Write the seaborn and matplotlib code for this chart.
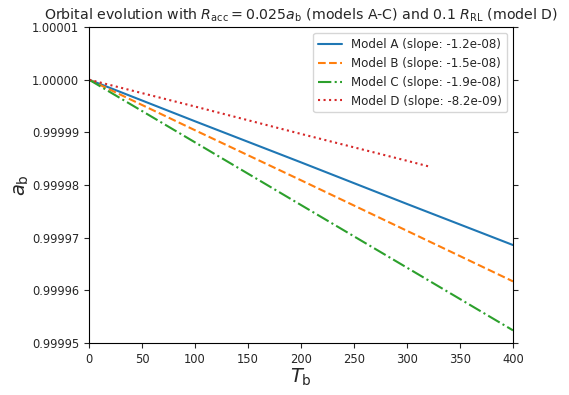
import matplotlib
matplotlib.use("Agg")
import matplotlib.pyplot as plt
import seaborn as sns
import pandas as pd
from matplotlib.ticker import FormatStrFormatter

sns.set_style("ticks")
plt.rcParams['font.family'] = ['DejaVu Sans']

t_abc = [0, 100, 200, 300, 400]
a_A = [1.0, 0.9999921, 0.9999843, 0.9999764, 0.9999686]
a_B = [1.0, 0.9999904, 0.9999809, 0.9999713, 0.9999617]
a_C = [1.0, 0.9999881, 0.9999762, 0.9999643, 0.9999524]
t_D = [0, 100, 200, 300, 321]
a_D = [1.0, 0.9999949, 0.9999897, 0.9999846, 0.9999835]

labels = ["Model A (slope: -1.2e-08)", "Model B (slope: -1.5e-08)",
          "Model C (slope: -1.9e-08)", "Model D (slope: -8.2e-09)"]
colors = ["#1f77b4", "#ff7f0e", "#2ca02c", "#d62728"]
styles = ["-", "--", "-.", ":"]
series = [(t_abc, a_A), (t_abc, a_B), (t_abc, a_C), (t_D, a_D)]

fig = plt.figure(figsize=(5.69, 3.95), dpi=100)
ax = fig.add_axes([89/569, 1 - 343/395, 424/569, 316/395])

for (t, a), lab, c, ls in zip(series, labels, colors, styles):
    df = pd.DataFrame({"T": t, "a": a})
    sns.lineplot(data=df, x="T", y="a", ax=ax, color=c, linestyle=ls,
                 label=lab, linewidth=1.5)

ax.set_xlim(0, 400)
ax.set_ylim(0.99995, 1.00001)
ax.set_yticks([0.99995, 0.99996, 0.99997, 0.99998, 0.99999, 1.00000, 1.00001])
ax.yaxis.set_major_formatter(FormatStrFormatter('%.5f'))
ax.tick_params(axis='both', labelsize=8.3, direction='out', length=3.5)
ax.tick_params(axis='y', right=True)
for s in ax.spines.values():
    s.set_visible(True)
    s.set_color('black')
    s.set_linewidth(0.8)

ax.set_xlabel(r"$T_{\rm b}$", fontsize=14, labelpad=1)
ax.set_ylabel(r"$a_{\rm b}$", fontsize=14, labelpad=1)
ax.set_title(r"Orbital evolution with $R_{\rm acc} = 0.025a_{\rm b}$ (models A-C) and 0.1 $R_{\rm RL}$ (model D)",
             fontsize=10.2, pad=5.5)
leg = ax.legend(loc="upper right", fontsize=8.6, frameon=True)
leg.get_frame().set_edgecolor('#cccccc')

fig.savefig("out.png", dpi=100)
